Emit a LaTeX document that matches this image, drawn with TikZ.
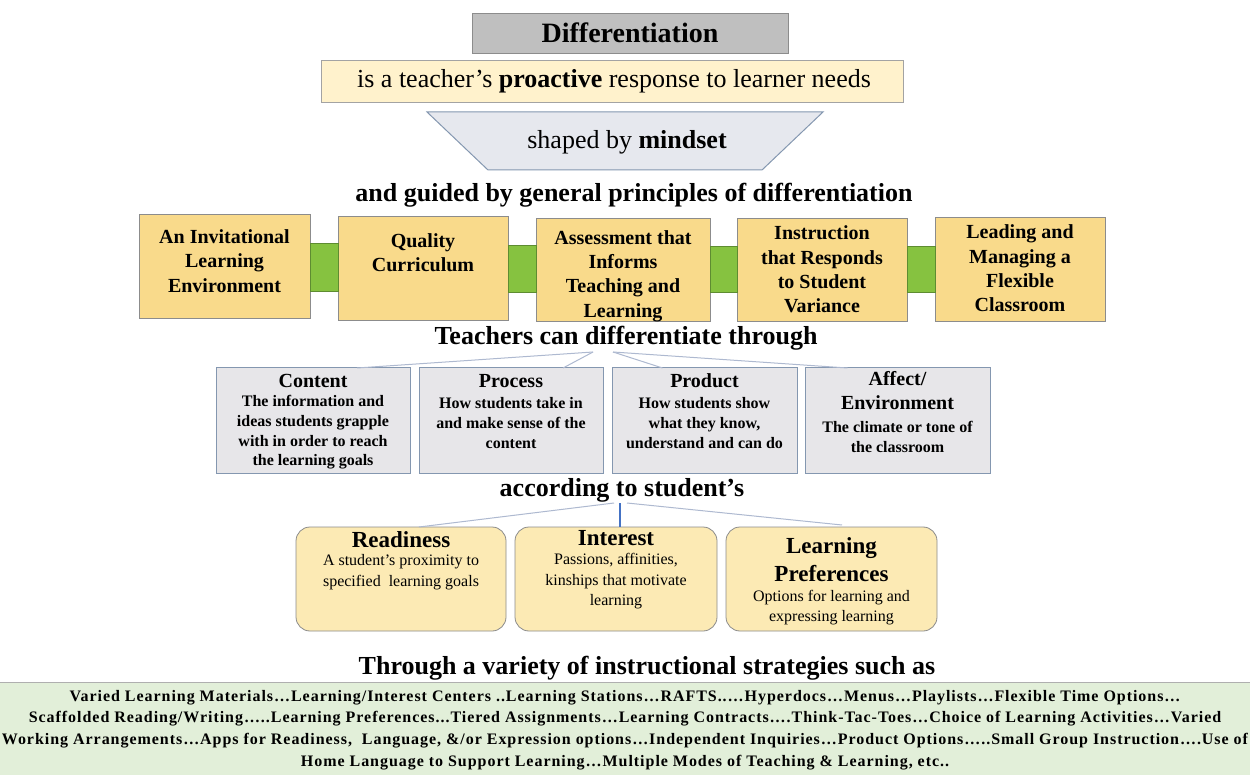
\documentclass[tikz,border=0pt]{standalone}
\usepackage{fontspec}
\setmainfont{Liberation Serif}
\usetikzlibrary{calc}
\definecolor{titlegray}{HTML}{BFBFBF}
\definecolor{bordergray}{HTML}{8C8C8C}
\definecolor{banner}{HTML}{FFF2CC}
\definecolor{trapfill}{HTML}{E6E8EE}
\definecolor{bluegray}{HTML}{8497B0}
\definecolor{gold}{HTML}{F9DA8B}
\definecolor{linkgreen}{HTML}{86C240}
\definecolor{linkgreendark}{HTML}{5E8C31}
\definecolor{boxgray}{HTML}{E7E6E9}
\definecolor{softyellow}{HTML}{FCEAB4}
\definecolor{paleline}{HTML}{AEB9D0}
\definecolor{blueline}{HTML}{4472C4}
\definecolor{palegreen}{HTML}{E2EFD9}
\newcommand{\fs}[2]{\fontsize{#1}{#2}\selectfont}
\begin{document}
\begin{tikzpicture}[x=1pt,y=-1pt,
  every node/.style={inner sep=0pt,outer sep=0pt},
  titlebox/.style={draw=bordergray,fill=titlegray,line width=0.8pt},
  bannerbox/.style={draw=bordergray!80,fill=banner,line width=0.8pt},
  trapshape/.style={draw=bluegray,fill=trapfill,line width=1pt},
  principle/.style={draw=bordergray,fill=gold,line width=0.8pt},
  prtext/.style={align=center,font=\fs{20}{24.3}\bfseries},
  greenlink/.style={draw=linkgreendark,fill=linkgreen,line width=0.6pt},
  waybox/.style={draw=bluegray,fill=boxgray,line width=1pt},
  waytitle/.style={align=center,font=\fs{20}{24}\bfseries},
  waybody/.style={align=center,font=\fs{16}{19.6}\bfseries},
  stubox/.style={draw=bordergray,fill=softyellow,rounded corners=14pt,line width=0.8pt},
  stutitle/.style={align=center,font=\fs{23}{28}\bfseries},
  stubody/.style={align=center,font=\fs{16}{20.5}},
  heading/.style={font=\fs{26}{30}\bfseries},
  thinline/.style={draw=paleline,line width=1pt},
  stratbox/.style={draw=bordergray!70,fill=palegreen,line width=0.8pt}
]
\useasboundingbox (0,0) rectangle (1250,775);
\fill[white] (0,0) rectangle (1250,775);

% top
\node[titlebox,minimum width=316,minimum height=40] (diff) at (630,33) {};
\node[font=\fs{28}{32}\bfseries] (difft) at (630,33) {Differentiation};
\node[bannerbox,minimum width=582,minimum height=42] (banner) at (612,81) {};
\node[font=\fs{26}{30}] (bannert) at (614,81) {is a teacher’s \textbf{proactive} response to learner needs};
\draw[trapshape] (427,112) -- (823,112) -- (762,170) -- (488,170) -- cycle;
\node[font=\fs{26}{30}] (mind) at (627,142) {shaped by \textbf{mindset}};

\node[heading] (guided) at (634,195) {and guided by general principles of differentiation};

% principles
\node[principle,minimum width=171,minimum height=104] (p1) at (224.5,266) {};
\node[principle,minimum width=170,minimum height=104] (p2) at (423,268) {};
\node[principle,minimum width=174,minimum height=103] (p3) at (623,269.5) {};
\node[principle,minimum width=170,minimum height=103] (p4) at (822,269.5) {};
\node[principle,minimum width=170,minimum height=104] (p5) at (1020,269) {};
\node[prtext] (p1t) at (224.5,261) {An Invitational\\Learning\\Environment};
\node[prtext] (p2t) at (423,252.5) {Quality\\Curriculum};
\node[prtext] (p3t) at (623,276) {Assessment that\\Informs\\Teaching and\\Learning};
\node[prtext] (p4t) at (822,269.5) {Instruction\\that Responds\\to Student\\Variance};
\node[prtext] (p5t) at (1020,268.5) {Leading and\\Managing a\\Flexible\\Classroom};
\draw[greenlink] ($(p1.east)+(0,-23)$) rectangle ($(p2.west)+(0,23)$);
\draw[greenlink] ($(p2.east)+(0,-23)$) rectangle ($(p3.west)+(0,23)$);
\draw[greenlink] ($(p3.east)+(0,-23)$) rectangle ($(p4.west)+(0,23)$);
\draw[greenlink] ($(p4.east)+(0,-23)$) rectangle ($(p5.west)+(0,23)$);

% ways
\node[heading] (through) at (626,338) {Teachers can differentiate through};
\coordinate (srcL) at (593,352);
\coordinate (srcR) at (613,352);
\node[waybox,minimum width=194,minimum height=105] (w1) at (313,420.5) {};
\node[waybox,minimum width=184,minimum height=105] (w2) at (511,420.5) {};
\node[waybox,minimum width=185,minimum height=105] (w3) at (704.5,420.5) {};
\node[waybox,minimum width=185,minimum height=105] (w4) at (897.5,420.5) {};
\draw[thinline] (srcL) -- ($(w1.north)+(44,0)$);
\draw[thinline] (srcL) -- ($(w2.north)+(52,0)$);
\draw[thinline] (srcR) -- ($(w3.north)+(-42,0)$);
\draw[thinline] (srcR) -- ($(w4.north)+(-50,0)$);
\node[waytitle] (w1t) at (313,381) {Content};
\node[waybody] (w1b) at (313,432.5) {The information and\\ideas students grapple\\with in order to reach\\the learning goals};
\node[waytitle] (w2t) at (511,381) {Process};
\node[waybody] (w2b) at (511,423) {How students take in\\and make sense of the\\content};
\node[waytitle] (w3t) at (704.5,381) {Product};
\node[waybody] (w3b) at (704.5,423) {How students show\\what they know,\\understand and can do};
\node[waytitle] (w4t) at (897.5,391) {Affect/\\Environment};
\node[waybody] (w4b) at (897.5,437) {The climate or tone of\\the classroom};

% student
\node[heading] (accord) at (622,490) {according to student’s};
\coordinate (srcA) at (614,503);
\coordinate (srcB) at (620,503);
\coordinate (srcC) at (627,503);
\node[stubox,minimum width=210,minimum height=104] (s1) at (401,579) {};
\node[stubox,minimum width=202,minimum height=104] (s2) at (616,579) {};
\node[stubox,minimum width=211,minimum height=104] (s3) at (831.5,579) {};
\draw[thinline] (srcA) -- ($(s1.north)+(18,0)$);
\draw[draw=blueline,line width=1.2pt] (srcB) -- ($(s2.north)+(4,0)$);
\draw[thinline] (srcC) -- ($(s3.north)+(10.5,-2)$);
\node[stutitle] (s1t) at (401,540) {Readiness};
\node[stubody] (s1b) at (401,572) {A student’s proximity to\\specified~ learning goals};
\node[stutitle] (s2t) at (616,538) {Interest};
\node[stubody] (s2b) at (616,581.5) {Passions, affinities,\\kinships that motivate\\learning};
\node[stutitle] (s3t) at (831.5,560) {Learning\\Preferences};
\node[stubody] (s3b) at (831.5,607.5) {Options for learning and\\expressing learning};

% strategies
\node[heading] (strat) at (647,668) {Through a variety of instructional strategies such as};
\node[stratbox,minimum width=1252,minimum height=93,anchor=north west] (sbox) at (-1,682) {};
\node[align=center,font=\fs{16}{21.7}\bfseries\addfontfeatures{LetterSpace=6}] (stext) at (625,730) {Varied Learning Materials…Learning/Interest Centers ..Learning Stations…RAFTS..…Hyperdocs…Menus…Playlists…Flexible Time Options…\\Scaffolded Reading/Writing…..Learning Preferences...Tiered Assignments…Learning Contracts….Think-Tac-Toes…Choice of Learning Activities…Varied\\Working Arrangements…Apps for Readiness,~ Language, \&/or Expression options…Independent Inquiries…Product Options…..Small Group Instruction….Use of\\Home Language to Support Learning…Multiple Modes of Teaching \& Learning, etc..};
\end{tikzpicture}
\end{document}
